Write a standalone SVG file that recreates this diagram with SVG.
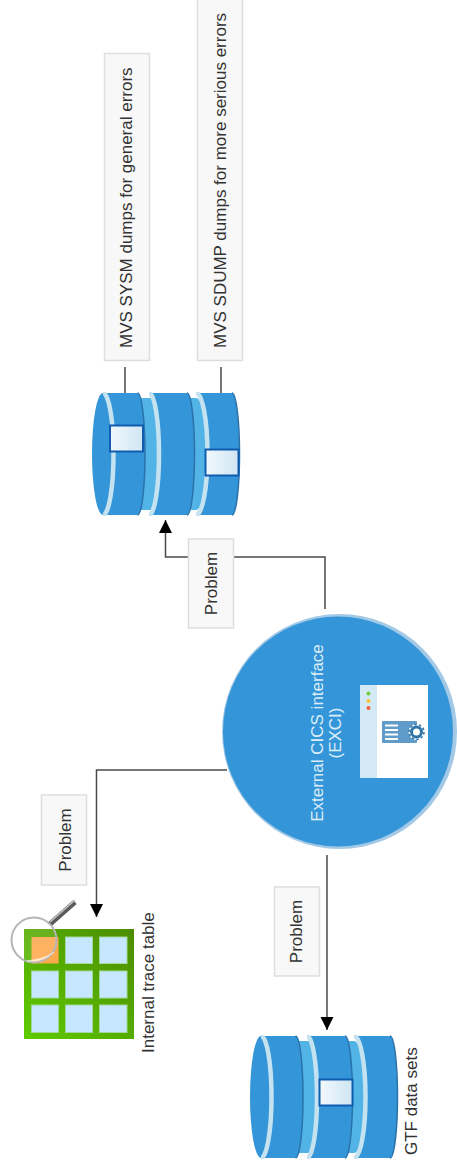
<svg xmlns="http://www.w3.org/2000/svg" xmlns:xlink="http://www.w3.org/1999/xlink" width="457" height="1171" viewBox="0 0 457 1171">
<style>
text{font-family:"Liberation Sans",Arial,sans-serif;font-size:17px;fill:#333}
.lbl{fill:#f8f8f8;stroke:#dbdfdf;stroke-width:1.5}
.conn{fill:none;stroke:#4a4a4a;stroke-width:1.5}
.body{fill:#3496d8}
.edge{fill:none;stroke:#2a72a8;stroke-width:1.5}
.arc{fill:none;stroke:#c4e2f0;stroke-width:4.500}
.ring{fill:#52b4e6}
.box{fill:url(#boxg);stroke:#0f5cb0;stroke-width:2}
.cell{fill:#c6e7ff;stroke:#a3d89c;stroke-width:1}
</style>
<defs>
<marker id="arrow" markerUnits="userSpaceOnUse" markerWidth="13" markerHeight="14" refX="13" refY="6.5" orient="auto"><path d="M0,0L13,6.5L0,13Z" fill="#000"/></marker>
<linearGradient id="boxg" x1="0" x2="1" y1="0" y2="0"><stop offset="0" stop-color="#f2f8fc"/><stop offset="1" stop-color="#cfe6f4"/></linearGradient>
<linearGradient id="grn" x1="1" y1="0" x2="0" y2="1"><stop offset="0" stop-color="#4c8c00"/><stop offset="1" stop-color="#5fcb00"/></linearGradient>
<symbol id="db" width="150" height="124" viewBox="0 0 150 124">
<path class="ring" d="M44,6H59A10,56 0 0 1 59,118H44Z"/>
<path class="ring" d="M92,6H105A12,56 0 0 1 105,118H92Z"/>
<path class="body" d="M105,1A11.500,61 0 0 1 105,123H141A7.500,61 0 0 0 141,1Z"/>
<path class="edge" d="M141,1A7.500,61 0 0 1 141,123"/>
<path class="body" d="M58,1A10,61 0 0 1 58,123H96A7.500,61 0 0 0 96,1Z"/>
<path class="edge" d="M96,1A7.500,61 0 0 1 96,123"/>
<path class="body" d="M12,1A11,61 0 0 0 12,123H46.500A7.500,61 0 0 0 46.500,1Z"/>
<path class="edge" d="M46.500,1A7.500,61 0 0 1 46.500,123"/>
<path class="arc" d="M12,1A10.500,61 0 0 1 12,123"/>
<path class="arc" d="M58,1A10,61 0 0 1 58,123"/>
<path class="arc" d="M105,1A11.500,61 0 0 1 105,123"/>
</symbol>
</defs>

<g id="connectors">
<path class="conn" d="M325,609V557H165.500V520" marker-end="url(#arrow)"/>
<path class="conn" d="M227,770H96.500V917" marker-end="url(#arrow)"/>
<path class="conn" d="M327,855V1030" marker-end="url(#arrow)"/>
<path class="conn" d="M125,367V423"/>
<path class="conn" d="M221,367V447"/>
</g>

<g id="label-problem-1"><rect class="lbl" x="188.500" y="539" width="45" height="89"/><text transform="translate(217,583.500) rotate(-90)" text-anchor="middle">Problem</text></g>
<g id="label-problem-2"><rect class="lbl" x="41.500" y="795" width="45" height="90"/><text transform="translate(71,840) rotate(-90)" text-anchor="middle">Problem</text></g>
<g id="label-problem-3"><rect class="lbl" x="274.500" y="887" width="45" height="89"/><text transform="translate(302,931.500) rotate(-90)" text-anchor="middle">Problem</text></g>

<g id="sysm"><rect class="lbl" x="104.500" y="53.500" width="45" height="307"/><text transform="translate(132,348) rotate(-90)">MVS SYSM dumps for general errors</text></g>
<g id="sdump"><rect class="lbl" x="197.500" y="-5" width="45" height="365.500"/><text transform="translate(226,348) rotate(-90)">MVS SDUMP dumps for more serious errors</text></g>

<g id="dump-db">
<use xlink:href="#db" href="#db" x="91" y="392" width="150" height="124"/>
<rect class="box" x="110" y="425.500" width="33" height="26"/>
<rect class="box" x="205.500" y="449.500" width="33" height="26"/>
</g>

<g id="exci">
<circle cx="339.500" cy="731.500" r="117.500" fill="#a3c9e6"/>
<circle cx="338" cy="731.500" r="115" fill="#3496d8"/>
<rect x="360" y="685" width="68" height="93" fill="#fff"/>
<rect x="360" y="685" width="17" height="93" fill="#d3e9f5"/>
<circle cx="368.500" cy="693.500" r="2" fill="#6fcf3c"/>
<circle cx="368.500" cy="701" r="2" fill="#f4c430"/>
<circle cx="368.500" cy="708" r="2" fill="#f0623a"/>
<rect x="382" y="721" width="35" height="22" rx="1" fill="#5f9cc9"/>
<path d="M385,725.500H398M385,730H398M385,734.500H398M385,739H398" stroke="#fff" stroke-width="2" fill="none"/>
<circle cx="416.500" cy="732" r="8" fill="#fff"/>
<circle cx="416.500" cy="732" r="5" fill="none" stroke="#2f74a8" stroke-width="3"/>
<circle cx="416.500" cy="732" r="7.500" fill="none" stroke="#2f74a8" stroke-width="1.500" stroke-dasharray="2.500 2.200"/>
<text transform="translate(323,733) rotate(-90)" text-anchor="middle" style="fill:#dcedf8">External CICS interface</text>
<text transform="translate(341,733) rotate(-90)" text-anchor="middle" style="fill:#dcedf8">(EXCI)</text>
</g>

<g id="trace-table">
<rect x="24" y="929" width="110" height="110" fill="url(#grn)"/>
<rect x="31.500" y="937" width="27" height="26.500" fill="#ffa94d"/>
<rect class="cell" x="65.500" y="937" width="27" height="26.500"/>
<rect class="cell" x="99.500" y="937" width="27.500" height="26.500"/>
<rect class="cell" x="31.500" y="971" width="27" height="27"/>
<rect class="cell" x="65.500" y="971" width="27" height="27"/>
<rect class="cell" x="99.500" y="971" width="27.500" height="27"/>
<rect class="cell" x="31.500" y="1005" width="27" height="27.500"/>
<rect class="cell" x="65.500" y="1005" width="27" height="27.500"/>
<rect class="cell" x="99.500" y="1005" width="27.500" height="27.500"/>
<path d="M50,924L75,902" stroke="#5a5a5a" stroke-width="5" fill="none"/>
<path d="M50,922L75,900" stroke="#c8c8c8" stroke-width="1.500" fill="none"/>
<circle cx="34" cy="940" r="22.500" fill="#fff" fill-opacity=".12" stroke="#b5b5b5" stroke-width="2"/>
<path d="M27,961Q42,963 54,952Q48,958 27,961Z" fill="#fff" fill-opacity=".6" stroke="#fff" stroke-opacity=".5"/>
<text transform="translate(154,1053) rotate(-90)">Internal trace table</text>
</g>

<g id="gtf">
<use xlink:href="#db" href="#db" x="249" y="1035" width="150" height="124"/>
<rect class="box" x="319.500" y="1079.500" width="33" height="26"/>
<text transform="translate(417,1155) rotate(-90)">GTF data sets</text>
</g>
</svg>
